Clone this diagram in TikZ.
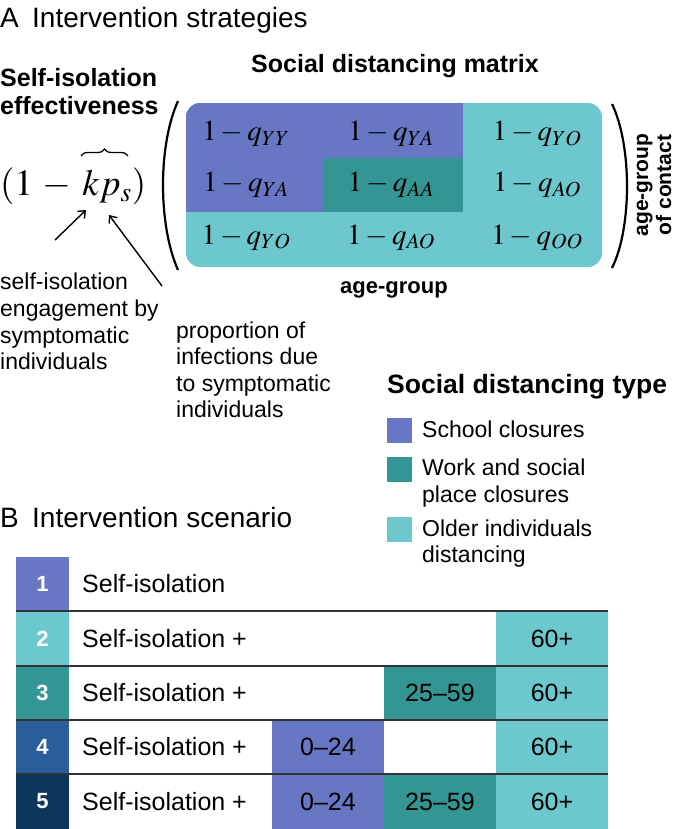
\documentclass[tikz,border=0pt]{standalone}
\usepackage{mathptmx}
\usepackage[no-math]{fontspec}
\setmainfont{Liberation Sans}
\usetikzlibrary{arrows.meta,decorations.pathreplacing}
\definecolor{school}{HTML}{6777C3}
\definecolor{work}{HTML}{349694}
\definecolor{older}{HTML}{6CC8CE}
\definecolor{nfour}{HTML}{2A5D9B}
\definecolor{nfive}{HTML}{0C365B}
\definecolor{rule}{HTML}{333333}
\newcommand{\fsz}[1]{\fontsize{#1}{#1}\selectfont}
\begin{document}
\begin{tikzpicture}[x=1pt,y=-1pt,
  txt/.style={inner sep=0pt, anchor=base west, font=\fsz{23}},
  ttl/.style={inner sep=0pt, anchor=base west, font=\fsz{28}},
  hbold/.style={inner sep=0pt, font=\fsz{25}\bfseries},
  sbold/.style={inner sep=0pt, font=\fsz{22}\bfseries},
  ent/.style={inner sep=0pt, anchor=base, font=\fsz{29}},
  lab/.style={inner sep=0pt, anchor=base west, font=\fsz{23}},
  tbl/.style={inner sep=0pt, font=\fsz{25}},
  num/.style={inner sep=0pt, font=\fsz{22}\bfseries, text=white},
  arr/.style={line width=1.4pt, -{Straight Barb[length=6pt,width=10pt,line width=1.4pt]}},
  paren/.style={line width=2.2pt},
  bracestyle/.style={line width=1.3pt, decorate, decoration={brace, amplitude=7pt, aspect=0.5}},
  rowline/.style={draw=rule, line width=1.2pt}]
\path[use as bounding box] (0,0) rectangle (677,829);

% ---- Panel A titles
\node[ttl] (A) at (0,28) {A};
\node[ttl] (Atitle) at (32,28) {Intervention strategies};
\node[hbold, anchor=base west] (sie1) at (0,87) {Self-isolation};
\node[hbold, anchor=base west] (sie2) at (0,115) {effectiveness};
\node[hbold, anchor=base] (sdm) at (395,73) {Social distancing matrix};

% ---- formula
\node[inner sep=0pt, anchor=base west, font=\fsz{37}] (form) at (0,196) {$(1\mkern2mu-\mkern3mu kp_{s})$};
\coordinate (bl) at (81,156);
\coordinate (br) at (128,156);
\draw[bracestyle] (bl) -- (br);
\coordinate (a1s) at (55,240);
\coordinate (a1e) at (86,210);
\coordinate (a2s) at (162,286);
\coordinate (a2e) at (109,215);
\draw[arr] (a1s) -- (a1e);
\draw[arr] (a2s) -- (a2e);

\node[txt] (e1) at (0,289) {self-isolation};
\node[txt] (e2) at (0,316) {engagement by};
\node[txt] (e3) at (0,343) {symptomatic};
\node[txt] (e4) at (0,369) {individuals};

\node[txt] (p1) at (176,338) {proportion of};
\node[txt] (p2) at (176,364) {infections due};
\node[txt] (p3) at (176,391) {to symptomatic};
\node[txt] (p4) at (176,417) {individuals};

% ---- matrix
\begin{scope}
\clip[rounded corners=14pt] (186,103) rectangle (602,267);
\fill[older] (186,103) rectangle (602,267);
\fill[school] (186,103) rectangle (463,212);
\fill[work] (323,158) rectangle (463,212);
\end{scope}
\node[ent] (m11) at (246,141) {$1-q_{YY}$};
\node[ent] (m12) at (391,141) {$1-q_{YA}$};
\node[ent] (m13) at (537,141) {$1-q_{YO}$};
\node[ent] (m21) at (246,192) {$1-q_{YA}$};
\node[ent] (m22) at (391,192) {$1-q_{AA}$};
\node[ent] (m23) at (537,192) {$1-q_{AO}$};
\node[ent] (m31) at (246,244) {$1-q_{YO}$};
\node[ent] (m32) at (391,244) {$1-q_{AO}$};
\node[ent] (m33) at (537,244) {$1-q_{OO}$};
\draw[paren] (178,101) .. controls (158,145) and (158,225) .. (178,270);
\draw[paren] (612,104) .. controls (632,145) and (632,228) .. (612,268);
\node[inner sep=0pt, rotate=90, align=center, font=\fontsize{21}{23}\selectfont\bfseries] (agc) at (654,185) {age-group\\of contact};
\node[sbold] (ag) at (394,290) {age-group};

% ---- legend
\node[inner sep=0pt, anchor=base west, font=\fsz{26.5}\bfseries] (sdt) at (387,393) {Social distancing type};
\fill[school] (387,418) rectangle (412,443);
\fill[work] (387,457) rectangle (412,482);
\fill[older] (387,517) rectangle (412,542);
\node[lab] (l1) at (422,437) {School closures};
\node[lab] (l2a) at (422,475) {Work and social};
\node[lab] (l2b) at (422,502) {place closures};
\node[lab] (l3a) at (422,536) {Older individuals};
\node[lab] (l3b) at (422,562) {distancing};

% ---- Panel B
\node[ttl] (B) at (0,527) {B};
\node[ttl] (Btitle) at (32,527) {Intervention scenario};

\fill[school] (16,557) rectangle (69,611);
\fill[older] (16,611) rectangle (69,666);
\fill[work] (16,666) rectangle (69,720);
\fill[nfour] (16,720) rectangle (69,774);
\fill[nfive] (16,774) rectangle (69,829);

\fill[older] (496,611) rectangle (608,666);
\fill[work] (384,666) rectangle (496,720);
\fill[older] (496,666) rectangle (608,720);
\fill[school] (272,720) rectangle (384,774);
\fill[older] (496,720) rectangle (608,774);
\fill[school] (272,774) rectangle (384,829);
\fill[work] (384,774) rectangle (496,829);
\fill[older] (496,774) rectangle (608,829);

\draw[rowline] (16,611) -- (608,611);
\draw[rowline] (16,666) -- (608,666);
\draw[rowline] (16,720) -- (608,720);
\draw[rowline] (16,774) -- (608,774);

\node[num] (n1) at (42.5,584) {1};
\node[num] (n2) at (42.5,638.5) {2};
\node[num] (n3) at (42.5,693) {3};
\node[num] (n4) at (42.5,747) {4};
\node[num] (n5) at (42.5,801.5) {5};

\node[tbl, anchor=west] (s1) at (82,584) {Self-isolation};
\node[tbl, anchor=west] (s2) at (82,638.5) {Self-isolation +};
\node[tbl, anchor=west] (s3) at (82,693) {Self-isolation +};
\node[tbl, anchor=west] (s4) at (82,747) {Self-isolation +};
\node[tbl, anchor=west] (s5) at (82,801.5) {Self-isolation +};

\node[tbl] (c2c) at (552,638.5) {60+};
\node[tbl] (c3b) at (440,693) {25--59};
\node[tbl] (c3c) at (552,693) {60+};
\node[tbl] (c4a) at (328,747) {0--24};
\node[tbl] (c4c) at (552,747) {60+};
\node[tbl] (c5a) at (328,801.5) {0--24};
\node[tbl] (c5b) at (440,801.5) {25--59};
\node[tbl] (c5c) at (552,801.5) {60+};
\end{tikzpicture}
\end{document}
